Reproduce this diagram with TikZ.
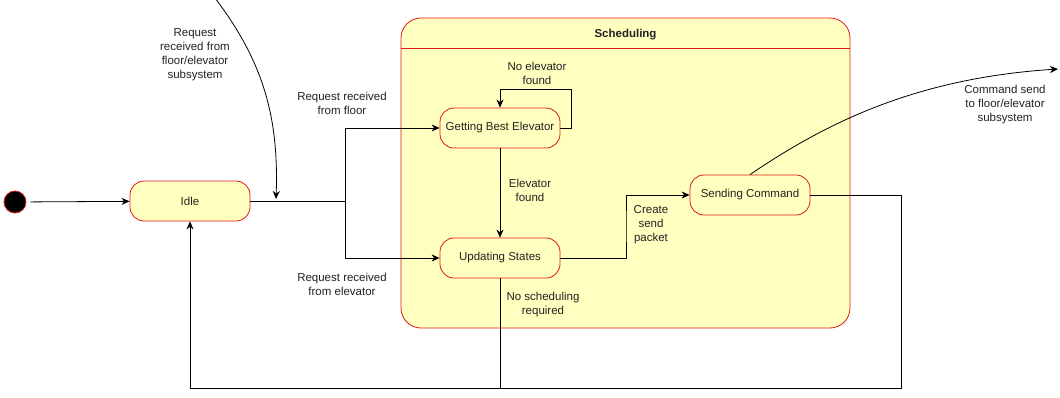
\documentclass[tikz,border=0pt]{standalone}
\usepackage{fontspec}
\setmainfont{Liberation Sans}
\usetikzlibrary{arrows.meta,calc}
\definecolor{statefill}{HTML}{FFFFC0}
\definecolor{statestroke}{HTML}{E01818}
\definecolor{labeltext}{HTML}{222222}
\begin{document}
\begin{tikzpicture}[x=1pt,y=-1pt,
  font=\fontsize{11.5}{14}\selectfont,
  state/.style={draw=statestroke, fill=statefill, rounded corners=14pt,
    minimum width=120pt, minimum height=40pt, line width=0.8pt, inner sep=0pt, text=labeltext},
  conn/.style={draw=black, line width=0.8pt, -{Stealth[length=8pt,width=7pt,inset=2.5pt]}},
  wire/.style={draw=black, line width=0.8pt},
  lbl/.style={align=center, text=labeltext, inner sep=0pt},
]
\useasboundingbox (0,0) rectangle (1060,397);

% composite state
\node[draw=statestroke, fill=statefill, rounded corners=20pt, line width=0.8pt,
      minimum width=449pt, minimum height=310pt, inner sep=0pt] (sched) at (625.5,173) {};
\coordinate (hdl) at (401,48);
\coordinate (hdr) at (850,48);
\draw[statestroke, line width=0.8pt] (hdl) -- (hdr);
\node[lbl, font=\fontsize{11.5}{14}\selectfont\bfseries] (schedtitle) at (625.5,35) {Scheduling};

% states
\node[circle, fill=black, draw=statestroke, line width=0.8pt, minimum size=22pt, inner sep=0pt] (init) at (15,202) {};
\node[state] (idle) at (190,201) {Idle};
\node[state] (gbe) at (500,128) {Getting Best Elevator};
\node[state] (us) at (500,258) {Updating States};
\node[state] (sc) at (750,195) {Sending Command};

% bend points
\coordinate (j) at (345,201);
\coordinate (loopr) at (571,89);
\coordinate (loopl) at (500,89);
\coordinate (pk) at (626,226);
\coordinate (rr) at (901,388);
\coordinate (rl) at (190,388);
\coordinate (ext) at (215,-2);
\coordinate (hit) at (276,199);
\coordinate (out) at (1058,69);

% transitions
\draw[conn, shorten <=4pt] (init) -- (idle);
\draw[wire] (idle.east) -- (j);
\draw[conn] (j) |- (gbe.west);
\draw[conn] (j) |- (us.west);
\draw[conn] (ext) .. controls (262,60) and (279,115) .. (hit);
\draw[conn] (gbe.east) -| (loopr) -- (loopl) -- (gbe.north);
\draw[conn] (gbe) -- (us);
\draw[conn] (us.east) -| (pk) |- (sc.west);
\draw[conn] (sc.east) -| (rr) -- (rl) -- (idle.south);
\draw[wire] (us.south) -- (us.south |- rl);
\draw[conn] (sc.north) .. controls (830,120) and (920,78) .. (out);

% labels
\node[lbl] (l1) at (195,55) {Request\\received from\\floor/elevator\\subsystem};
\node[lbl] (l2) at (342,103) {Request received\\from floor};
\node[lbl] (l3) at (342,284) {Request received\\from elevator};
\node[lbl] (l4) at (537,73) {No elevator\\found};
\node[lbl] (l5) at (530,190) {Elevator\\found};
\node[lbl] (l6) at (651,225) {Create\\send\\packet};
\node[lbl] (l7) at (543,305) {No scheduling\\required};
\node[lbl] (l8) at (1005,105) {Command send\\to floor/elevator\\subsystem};
\end{tikzpicture}
\end{document}
